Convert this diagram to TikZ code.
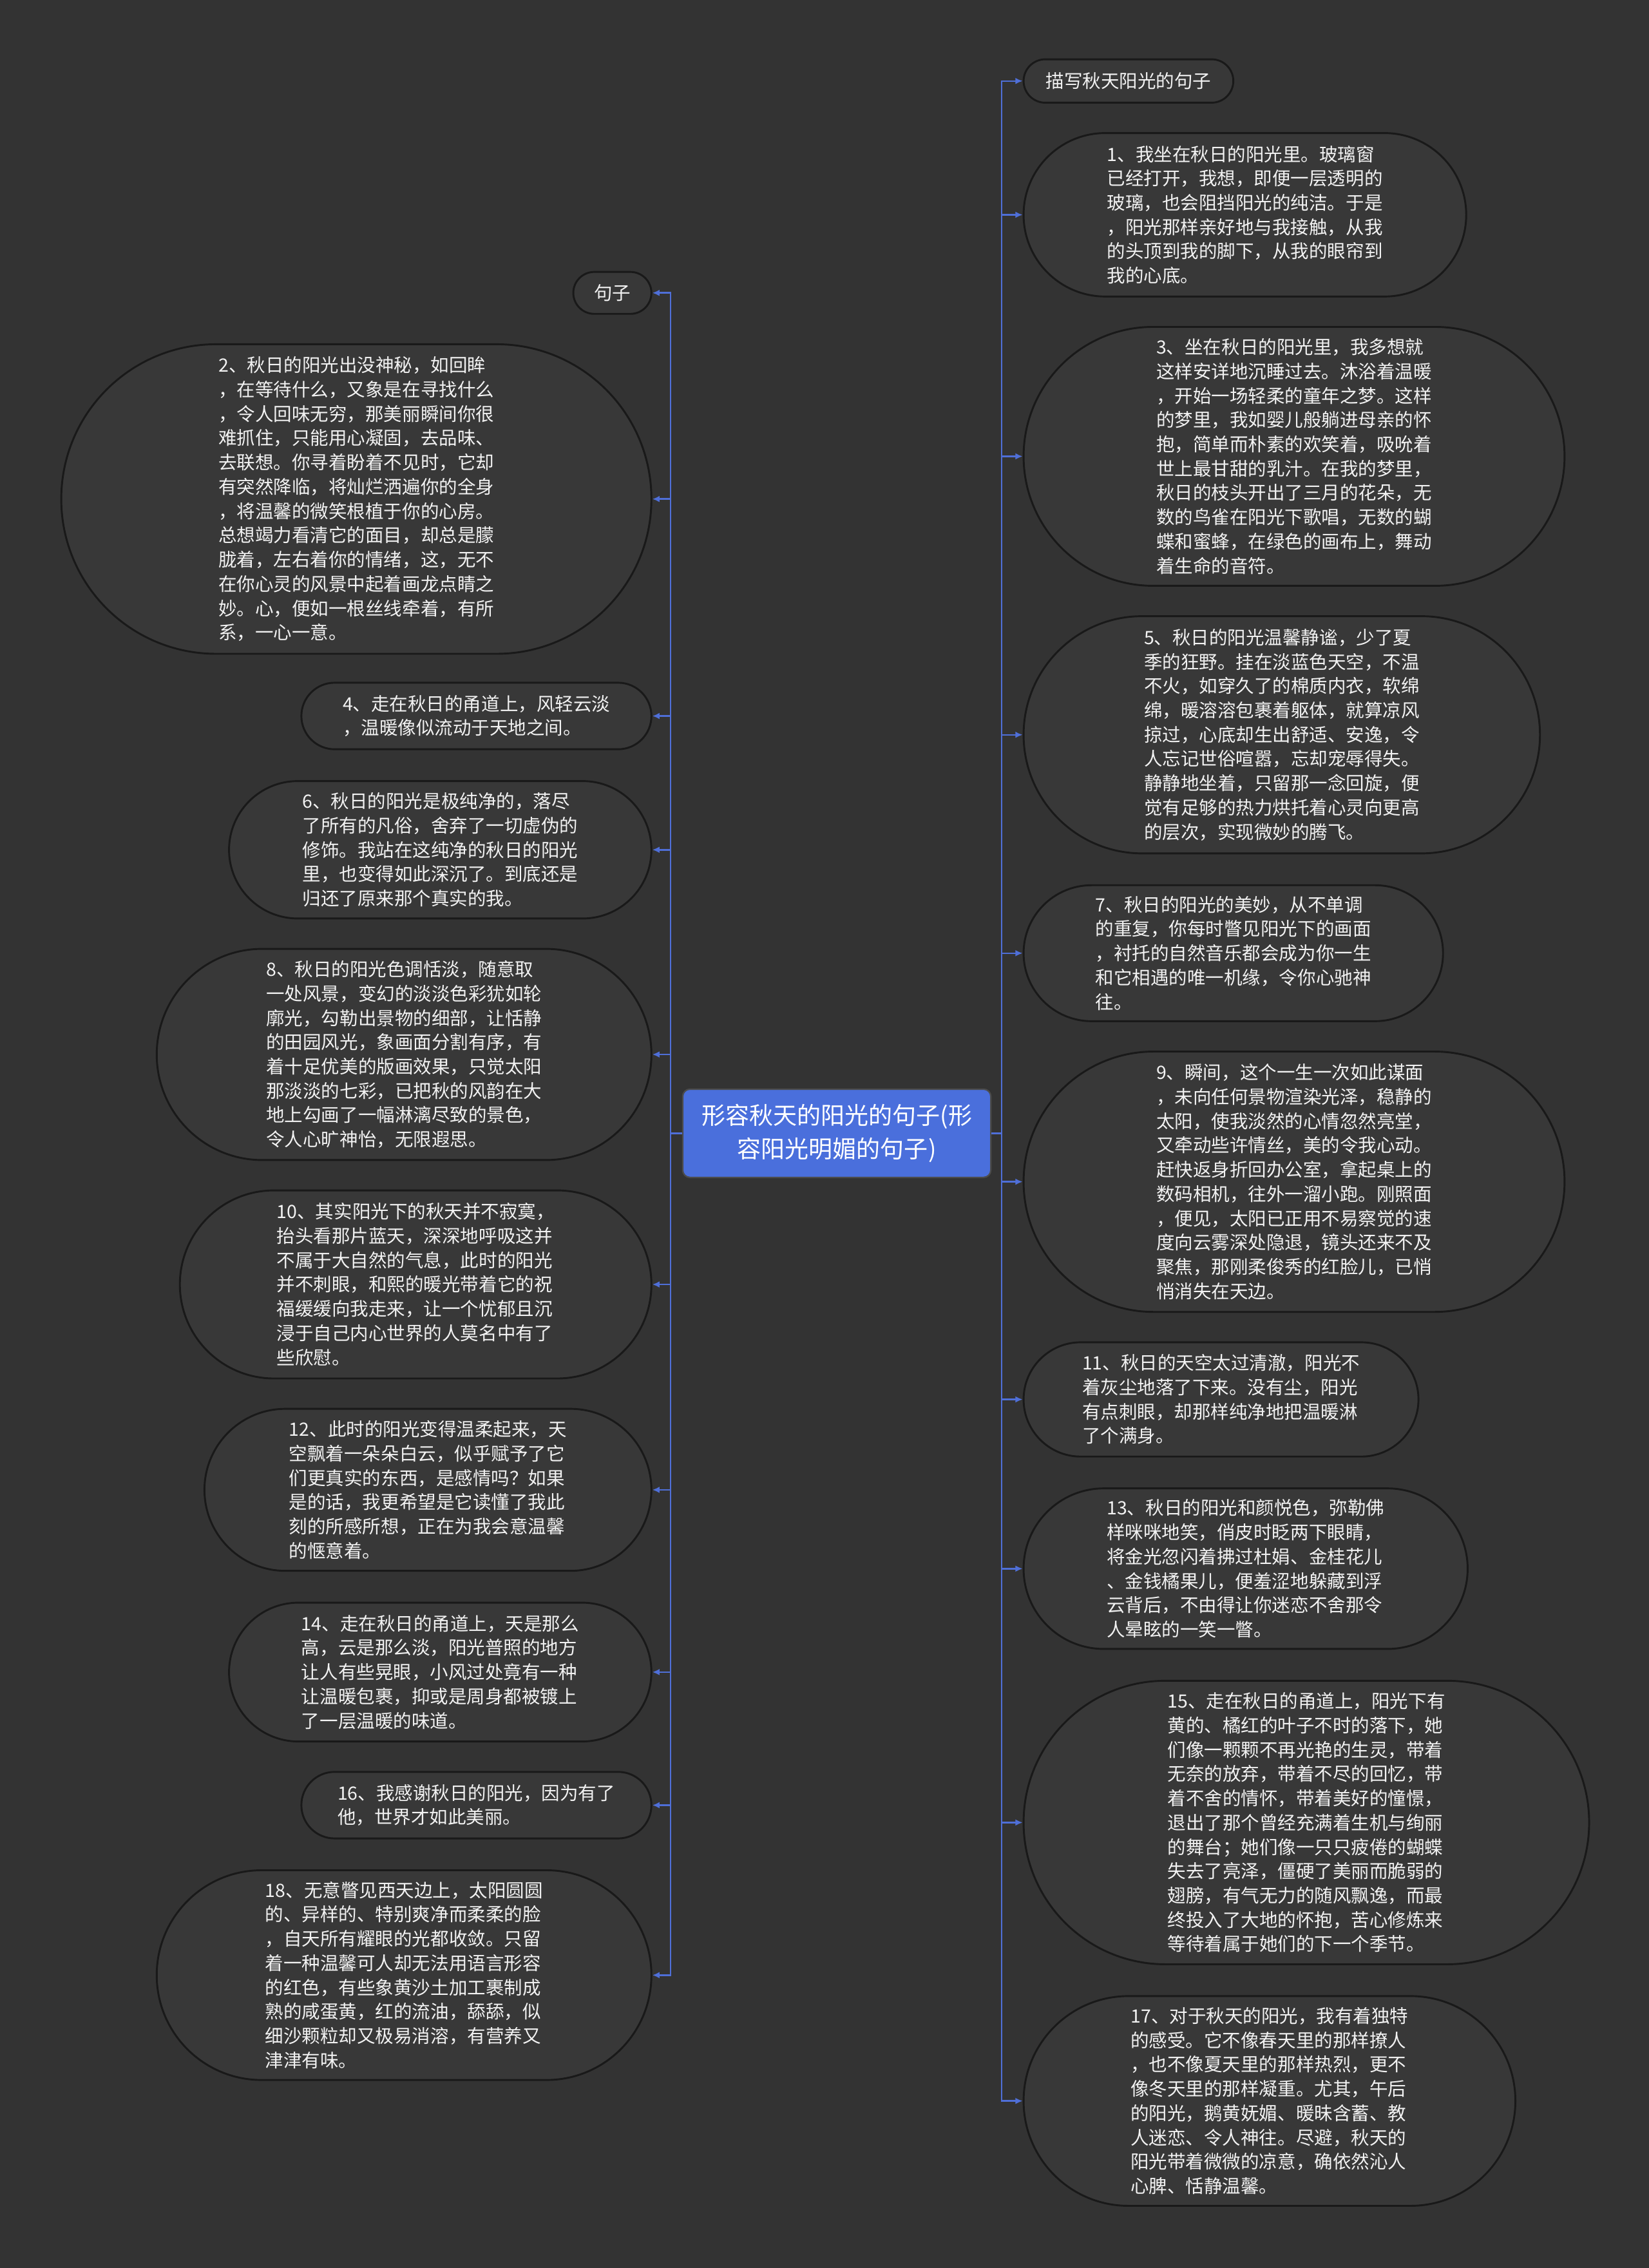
\documentclass[tikz,border=0pt]{standalone}
\usepackage{fontspec}
\newfontfamily\cjk{Noto Sans CJK SC}
\usetikzlibrary{shapes.misc,arrows.meta}
\definecolor{canvas}{HTML}{333333}
\definecolor{leaffill}{HTML}{383838}
\definecolor{rootblue}{HTML}{4A6FDC}
\definecolor{linkblue}{HTML}{4F6FD8}
\begin{document}
\begin{tikzpicture}[x=1pt, y=-1pt, font=\cjk,
  leaf/.style={rounded rectangle, draw=black!90, line width=1.3pt, fill=leaffill, text=white!95!black,
    align=left, inner sep=0pt, font=\cjk\fontsize{12.7}{16.8}\selectfont},
  root/.style={rectangle, rounded corners=5pt, draw=black!70, line width=1pt, fill=rootblue, text=white,
    align=center, inner sep=0pt, minimum width=213pt, minimum height=61pt,
    font=\cjk\fontsize{16.5}{23}\selectfont},
  link/.style={draw=linkblue, line width=1.1pt, -{Latex[length=5pt,width=4.5pt]}}]
\fill[canvas] (0,0) rectangle (1140,1568);
\useasboundingbox (0,0) rectangle (1140,1568);
\node[root] (root) at (578.5,783.5) {形容秋天的阳光的句子(形\\容阳光明媚的句子)};
% right branch: left edge at x=707, left branch: right edge at x=451
\newcommand{\sentR}[5]{\node[leaf, anchor=west, minimum width=#3pt, minimum height=#4pt] (#1) at (707,#2) {#5};
  \draw[link] (root.east) -- ++(7,0) |- (#1.west);}
\newcommand{\sentL}[5]{\node[leaf, anchor=east, minimum width=#3pt, minimum height=#4pt] (#1) at (451,#2) {#5};
  \draw[link] (root.west) -- ++(-8,0) |- (#1.east);}
\sentR{miaoxie}{56}{145}{30}{描写秋天阳光的句子}
\sentR{s1}{148.5}{306}{113}{1、我坐在秋日的阳光里。玻璃窗\\已经打开，我想，即便一层透明的\\玻璃，也会阻挡阳光的纯洁。于是\\，阳光那样亲好地与我接触，从我\\的头顶到我的脚下，从我的眼帘到\\我的心底。}
\sentR{s3}{315.5}{374}{179}{3、坐在秋日的阳光里，我多想就\\这样安详地沉睡过去。沐浴着温暖\\，开始一场轻柔的童年之梦。这样\\的梦里，我如婴儿般躺进母亲的怀\\抱，简单而朴素的欢笑着，吸吮着\\世上最甘甜的乳汁。在我的梦里，\\秋日的枝头开出了三月的花朵，无\\数的鸟雀在阳光下歌唱，无数的蝴\\蝶和蜜蜂，在绿色的画布上，舞动\\着生命的音符。}
\sentR{s5}{508}{357}{164}{5、秋日的阳光温馨静谧，少了夏\\季的狂野。挂在淡蓝色天空，不温\\不火，如穿久了的棉质内衣，软绵\\绵，暖溶溶包裹着躯体，就算凉风\\掠过，心底却生出舒适、安逸，令\\人忘记世俗喧嚣，忘却宠辱得失。\\静静地坐着，只留那一念回旋，便\\觉有足够的热力烘托着心灵向更高\\的层次，实现微妙的腾飞。}
\sentR{s7}{659}{290}{94}{7、秋日的阳光的美妙，从不单调\\的重复，你每时瞥见阳光下的画面\\，衬托的自然音乐都会成为你一生\\和它相遇的唯一机缘，令你心驰神\\往。}
\sentR{s9}{817}{374}{180}{9、瞬间，这个一生一次如此谋面\\，未向任何景物渲染光泽，稳静的\\太阳，使我淡然的心情忽然亮堂，\\又牵动些许情丝，美的令我心动。\\赶快返身折回办公室，拿起桌上的\\数码相机，往外一溜小跑。刚照面\\，便见，太阳已正用不易察觉的速\\度向云雾深处隐退，镜头还来不及\\聚焦，那刚柔俊秀的红脸儿，已悄\\悄消失在天边。}
\sentR{s11}{967.5}{273}{79}{11、秋日的天空太过清澈，阳光不\\着灰尘地落了下来。没有尘，阳光\\有点刺眼，却那样纯净地把温暖淋\\了个满身。}
\sentR{s13}{1084.5}{307}{111}{13、秋日的阳光和颜悦色，弥勒佛\\样咪咪地笑，俏皮时眨两下眼睛，\\将金光忽闪着拂过杜娟、金桂花儿\\、金钱橘果儿，便羞涩地躲藏到浮\\云背后，不由得让你迷恋不舍那令\\人晕眩的一笑一瞥。}
\sentR{s15}{1260}{391}{196}{15、走在秋日的甬道上，阳光下有\\黄的、橘红的叶子不时的落下，她\\们像一颗颗不再光艳的生灵，带着\\无奈的放弃，带着不尽的回忆，带\\着不舍的情怀，带着美好的憧憬，\\退出了那个曾经充满着生机与绚丽\\的舞台；她们像一只只疲倦的蝴蝶\\失去了亮泽，僵硬了美丽而脆弱的\\翅膀，有气无力的随风飘逸，而最\\终投入了大地的怀抱，苦心修炼来\\等待着属于她们的下一个季节。}
\sentR{s17}{1452.5}{340}{145}{17、对于秋天的阳光，我有着独特\\的感受。它不像春天里的那样撩人\\，也不像夏天里的那样热烈，更不\\像冬天里的那样凝重。尤其，午后\\的阳光，鹅黄妩媚、暖昧含蓄、教\\人迷恋、令人神往。尽避，秋天的\\阳光带着微微的凉意，确依然沁人\\心脾、恬静温馨。}
\sentL{juzi}{202.5}{54}{29}{句子}
\sentL{s2}{345}{408}{214}{2、秋日的阳光出没神秘，如回眸\\，在等待什么，又象是在寻找什么\\，令人回味无穷，那美丽瞬间你很\\难抓住，只能用心凝固，去品味、\\去联想。你寻着盼着不见时，它却\\有突然降临，将灿烂洒遍你的全身\\，将温馨的微笑根植于你的心房。\\总想竭力看清它的面目，却总是朦\\胧着，左右着你的情绪，这，无不\\在你心灵的风景中起着画龙点睛之\\妙。心，便如一根丝线牵着，有所\\系，一心一意。}
\sentL{s4}{495}{242}{46}{4、走在秋日的甬道上，风轻云淡\\，温暖像似流动于天地之间。}
\sentL{s6}{587.5}{292}{95}{6、秋日的阳光是极纯净的，落尽\\了所有的凡俗，舍弃了一切虚伪的\\修饰。我站在这纯净的秋日的阳光\\里，也变得如此深沉了。到底还是\\归还了原来那个真实的我。}
\sentL{s8}{729}{342}{146}{8、秋日的阳光色调恬淡，随意取\\一处风景，变幻的淡淡色彩犹如轮\\廓光，勾勒出景物的细部，让恬静\\的田园风光，象画面分割有序，有\\着十足优美的版画效果，只觉太阳\\那淡淡的七彩，已把秋的风韵在大\\地上勾画了一幅淋漓尽致的景色，\\令人心旷神怡，无限遐思。}
\sentL{s10}{888}{326}{130}{10、其实阳光下的秋天并不寂寞，\\抬头看那片蓝天，深深地呼吸这并\\不属于大自然的气息，此时的阳光\\并不刺眼，和熙的暖光带着它的祝\\福缓缓向我走来，让一个忧郁且沉\\浸于自己内心世界的人莫名中有了\\些欣慰。}
\sentL{s12}{1030}{309}{112}{12、此时的阳光变得温柔起来，天\\空飘着一朵朵白云，似乎赋予了它\\们更真实的东西，是感情吗？如果\\是的话，我更希望是它读懂了我此\\刻的所感所想，正在为我会意温馨\\的惬意着。}
\sentL{s14}{1156}{292}{96}{14、走在秋日的甬道上，天是那么\\高，云是那么淡，阳光普照的地方\\让人有些晃眼，小风过处竟有一种\\让温暖包裹，抑或是周身都被镀上\\了一层温暖的味道。}
\sentL{s16}{1248}{242}{46}{16、我感谢秋日的阳光，因为有了\\他，世界才如此美丽。}
\sentL{s18}{1365.5}{342}{145}{18、无意瞥见西天边上，太阳圆圆\\的、异样的、特别爽净而柔柔的脸\\，自天所有耀眼的光都收敛。只留\\着一种温馨可人却无法用语言形容\\的红色，有些象黄沙土加工裹制成\\熟的咸蛋黄，红的流油，舔舔，似\\细沙颗粒却又极易消溶，有营养又\\津津有味。}
\end{tikzpicture}
\end{document}
